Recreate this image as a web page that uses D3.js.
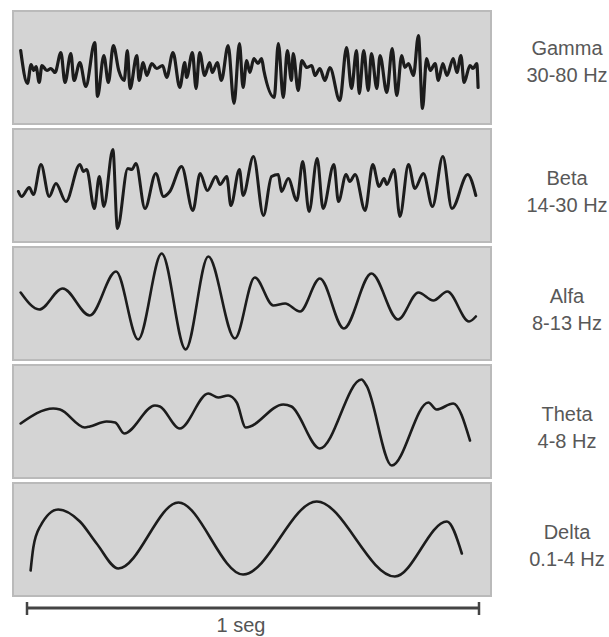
<!DOCTYPE html>
<html>
<head>
<meta charset="utf-8">
<script src="https://cdn.jsdelivr.net/npm/d3@7"></script>
<style>
  body { margin: 0; background: #fff; }
  svg { display: block; }
</style>
</head>
<body>
<div id="chart"></div>
<script>
// band names and frequency ranges, top to bottom
var bandNames = ["Gamma", "Beta", "Alfa", "Theta", "Delta"];
var bandRanges = ["30-80 Hz", "14-30 Hz", "8-13 Hz", "4-8 Hz", "0.1-4 Hz"];

// traces: [time in ms, amplitude]
var gammaWave = [[-14,17],[1,-16],[9,3],[15,-3],[20,1],[27,-15],[33,2],[44,-3],[53,-1],[62,-5],
  [75,15],[84,-15],[97,14],[104,-13],[117,5],[130,-19],[150,25],[156,-29],[170,12],[180,-15],
  [191,22],[203,-3],[215,-13],[222,17],[228,-21],[243,12],[248,-13],[257,5],[265,-8],[276,4],
  [287,-1],[300,2],[309,-10],[323,15],[338,-20],[349,5],[353,-10],[366,15],[374,-21],[382,15],
  [393,-8],[404,5],[410,-5],[421,5],[430,-13],[445,22],[458,-36],[470,24],[478,-20],[486,7],
  [493,-5],[502,9],[511,4],[519,9],[524,-3],[547,-30],[556,24],[567,-30],[576,17],[585,-13],
  [589,14],[600,-23],[608,7],[619,0],[630,2],[637,-8],[648,-1],[659,-13],[670,0],[692,-33],
  [707,20],[718,-21],[729,17],[735,-26],[745,17],[755,-23],[762,14],[774,-21],[781,12],[796,-25],
  [808,19],[818,-28],[829,12],[836,0],[844,4],[855,-8],[866,32],[875,-41],[884,9],[892,-3],
  [903,4],[910,-13],[920,4],[929,-8],[943,9],[951,-5],[960,12],[967,-15],[980,2],[987,-1],
  [995,4],[998,-20]];

var betaWave = [[-19,-6],[-12,-11],[5,-2],[14,-9],[31,21],[49,-11],[64,2],[86,-16],[117,21],
  [125,14],[132,16],[149,-23],[160,9],[170,-21],[190,36],[200,-43],[223,17],[232,16],[241,22],
  [261,-23],[285,12],[302,-11],[316,-6],[342,19],[367,-25],[383,12],[399,-5],[418,9],[427,1],
  [442,9],[451,-20],[470,16],[478,-10],[501,29],[523,-30],[541,9],[556,11],[563,-6],[578,7],
  [597,-15],[610,24],[624,-26],[642,27],[655,-23],[679,21],[689,-16],[706,11],[714,4],[726,11],
  [748,-25],[765,21],[779,-1],[790,7],[796,1],[812,16],[825,-31],[844,21],[858,-3],[877,12],
  [897,-21],[920,29],[940,-23],[975,11],[993,-10]];

var alfaWave = [[-14,11],[27,-6],[79,15],[139,-12],[197,32],[246,-36],[298,50],[351,-46],
  [401,47],[460,-35],[504,26],[545,-2],[571,0],[604,-8],[648,25],[701,-25],[762,30],[821,-16],
  [866,11],[899,3],[930,12],[978,-18],[993,-13]];

var thetaWave = [[-14,-2],[58,13],[73,12],[128,-6],[139,-5],[176,0],[195,-1],[215,-12],
  [283,16],[294,15],[338,-7],[401,28],[423,24],[445,26],[464,19],[484,-6],[567,17],[585,15],
  [648,-27],[740,42],[751,36],[807,-44],[888,19],[906,12],[943,18],[980,-19]];

var deltaWave = [[8,-31],[14,-8],[29,13],[69,30],[117,18],[154,-4],[202,-29],[335,37],
  [478,-35],[641,38],[814,-37],[929,18],[962,-14]];

var waves = [gammaWave, betaWave, alfaWave, thetaWave, deltaWave];

// scale bar: one second
var scaleBarMs = [0, 1000];
var scaleBarLabel = "1 seg";

function init() {
    var w = 609;
    var h = 637;

    var svg = d3.select("#chart")
                .append("svg")
                .attr("width", w)
                .attr("height", h);

    // panel layout
    var panelLeft = 13,
        panelWidth = 478,
        panelHeight = 113,
        panelTop = 11,
        panelStep = 118;

    // time axis shared by every trace
    var x = d3.scaleLinear()
              .domain(scaleBarMs)
              .range([27, 479]);

    var line = d3.line()
                 .x(function(d) { return x(d[0]); })
                 .curve(d3.curveMonotoneX);

    var panels = svg.selectAll("g.panel")
                    .data(waves)
                    .enter()
                    .append("g")
                    .attr("class", "panel")
                    .attr("transform", function(d, i) {
                        return "translate(0," + (panelTop + i * panelStep) + ")";
                    });

    // grey box behind each trace
    panels.append("rect")
          .attr("x", panelLeft)
          .attr("y", 0)
          .attr("width", panelWidth)
          .attr("height", panelHeight)
          .attr("fill", "#d4d4d4")
          .attr("stroke", "#bababa")
          .attr("stroke-width", 2);

    // amplitude scale, 1 unit per pixel centred on the box
    var y = d3.scaleLinear()
              .domain([-panelHeight / 2, panelHeight / 2])
              .range([panelHeight, 0]);

    panels.append("path")
          .attr("d", function(d) {
              return line.y(function(p) { return y(p[1]); })(d);
          })
          .attr("fill", "none")
          .attr("stroke", "#1c1c1c")
          .attr("stroke-width", function(d, i) { return i === 0 ? 3.2 : (i === 1 ? 3 : 2.6); })
          .attr("stroke-linejoin", "round")
          .attr("stroke-linecap", "round");

    // labels on the right (the Gamma label sits a bit higher in the original)
    var nudge = function(i) { return i === 0 ? -12 : 0; };

    var labels = panels.append("text")
          .attr("text-anchor", "middle")
          .attr("font-family", "'Liberation Sans', Arial, sans-serif")
          .attr("font-size", 20)
          .attr("fill", "#585858");

    labels.append("tspan")
          .attr("x", 567)
          .attr("y", function(d, i) { return panelHeight / 2 - 1 + nudge(i); })
          .text(function(d, i) { return bandNames[i]; });

    labels.append("tspan")
          .attr("x", 567)
          .attr("y", function(d, i) { return panelHeight / 2 + 26 + nudge(i); })
          .text(function(d, i) { return bandRanges[i]; });

    // scale bar
    var barY = 608;
    var bar = svg.append("g").attr("class", "scalebar");

    bar.append("line")
       .attr("x1", x(scaleBarMs[0]))
       .attr("x2", x(scaleBarMs[1]))
       .attr("y1", barY)
       .attr("y2", barY)
       .attr("stroke", "#444")
       .attr("stroke-width", 3);

    bar.selectAll("line.tick")
       .data(scaleBarMs)
       .enter()
       .append("line")
       .attr("class", "tick")
       .attr("x1", function(d) { return x(d); })
       .attr("x2", function(d) { return x(d); })
       .attr("y1", barY - 6)
       .attr("y2", barY + 7)
       .attr("stroke", "#444")
       .attr("stroke-width", 2.5);

    bar.append("text")
       .attr("x", x(500) - 12)
       .attr("y", 632)
       .attr("text-anchor", "middle")
       .attr("font-family", "'Liberation Sans', Arial, sans-serif")
       .attr("font-size", 20)
       .attr("fill", "#555")
       .text(scaleBarLabel);
}

window.onload = init;
</script>
</body>
</html>
